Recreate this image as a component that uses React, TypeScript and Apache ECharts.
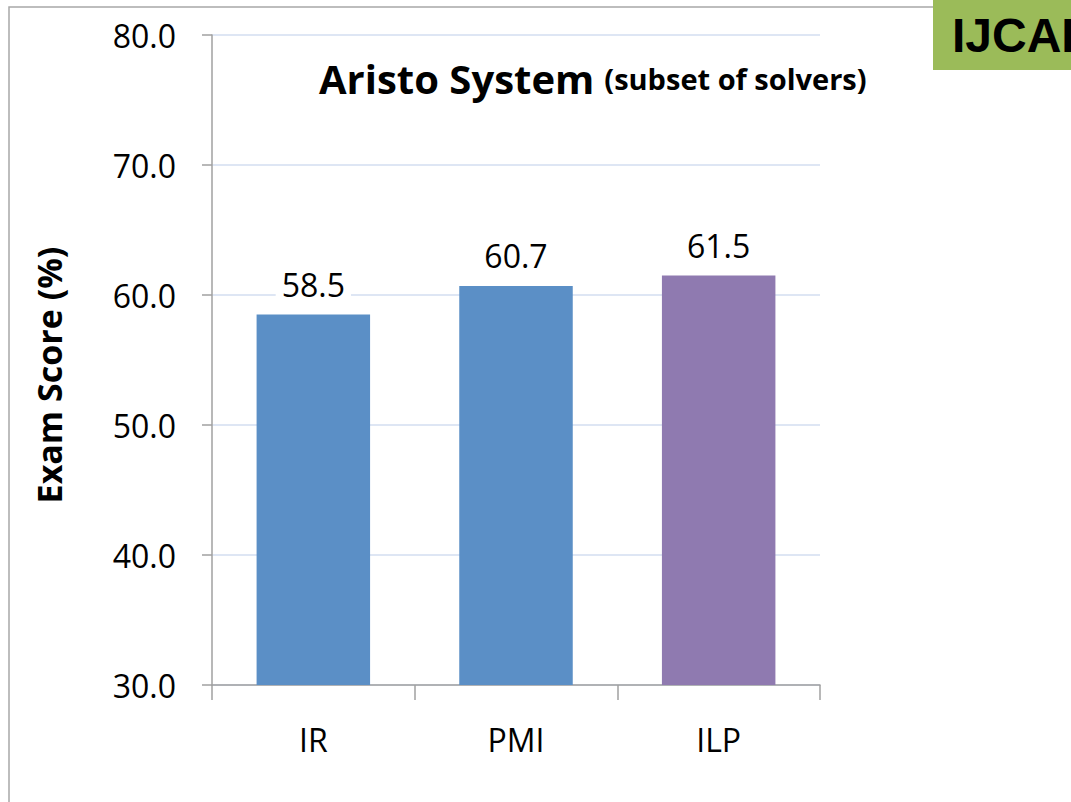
import React, { useEffect, useRef } from "react";
import * as echarts from "echarts";

const categories = ["IR", "PMI", "ILP"];
const scores = [58.5, 60.7, 61.5];
const barColors = ["#5b8fc6", "#5b8fc6", "#8f7ab0"];
const yTicks = { min: 30, max: 80, interval: 10 };
const titleMain = "Aristo System";
const titleSub = "(subset of solvers)";
const yName = "Exam Score (%)";
const badge = "IJCAI";

const FONT = "'Open Sans', Lato, sans-serif";

export default function App() {
  const ref = useRef<HTMLDivElement>(null);
  useEffect(() => {
    if (!ref.current) return;
    const chart = echarts.init(ref.current, undefined, { renderer: "svg" });
    chart.setOption({
      animation: false,
      backgroundColor: "#ffffff",
      title: {
        text: `{a|${titleMain}}  {b|${titleSub}}`,
        left: 314,
        top: 53,
        textStyle: {
          rich: {
            a: { fontFamily: FONT, fontWeight: "bold", fontSize: 40, color: "#000" },
            b: { fontFamily: FONT, fontWeight: "bold", fontSize: 29, color: "#000" },
          },
        },
      },
      grid: { left: 212, right: 251, top: 35, bottom: 117 },
      xAxis: {
        type: "category",
        data: categories,
        axisLine: { show: true, lineStyle: { color: "#a0a0a0", width: 1.5 } },
        axisTick: { show: true, length: 15, lineStyle: { color: "#a0a0a0", width: 1.5 } },
        axisLabel: { margin: 38, fontFamily: FONT, fontSize: 32, color: "#000" },
      },
      yAxis: {
        type: "value",
        min: yTicks.min,
        max: yTicks.max,
        interval: yTicks.interval,
        name: yName,
        nameLocation: "middle",
        nameGap: 146,
        nameRotate: 90,
        nameTextStyle: {
          fontFamily: FONT,
          fontWeight: "bold",
          fontSize: 34,
          color: "#000",
          padding: [0, 30, 0, 0],
        },
        axisLine: { show: true, lineStyle: { color: "#a0a0a0", width: 1.5 } },
        axisTick: { show: true, inside: false, length: 10, lineStyle: { color: "#a0a0a0", width: 1.5 } },
        axisLabel: {
          margin: 36,
          fontFamily: FONT,
          fontSize: 32,
          color: "#000",
          formatter: (v: number) => v.toFixed(1),
        },
        splitLine: { show: true, lineStyle: { color: "#d3def0", width: 1.5 } },
      },
      series: [
        {
          type: "bar",
          data: scores.map((v, i) => ({ value: v, itemStyle: { color: barColors[i] } })),
          barWidth: "56%",
          label: {
            show: true,
            position: "top",
            distance: 14,
            fontFamily: FONT,
            fontSize: 32,
            color: "#000",
            backgroundColor: "#ffffff",
            padding: [0, 6, 0, 6],
            formatter: (p: any) => Number(p.value).toFixed(1),
          },
        },
      ],
      graphic: [
        {
          type: "rect",
          shape: { x: 9, y: 7, width: 1200, height: 1000 },
          style: { fill: "none", stroke: "#a8a8a8", lineWidth: 1.5 },
          z: -1,
        },
        {
          type: "rect",
          shape: { x: 933, y: 0, width: 150, height: 70 },
          style: { fill: "#9bbb59" },
          z: 10,
        },
        {
          type: "text",
          x: 952,
          y: 35,
          style: {
            text: badge,
            fontFamily: "'Liberation Sans', Arial, sans-serif",
            fontWeight: "bold",
            fontSize: 48,
            fill: "#000",
            verticalAlign: "middle",
          },
          z: 11,
        },
      ],
    });
    return () => chart.dispose();
  }, []);
  return (
    <div
      ref={ref}
      style={{ position: "fixed", left: 0, top: 0, width: 1071, height: 802 }}
    />
  );
}
